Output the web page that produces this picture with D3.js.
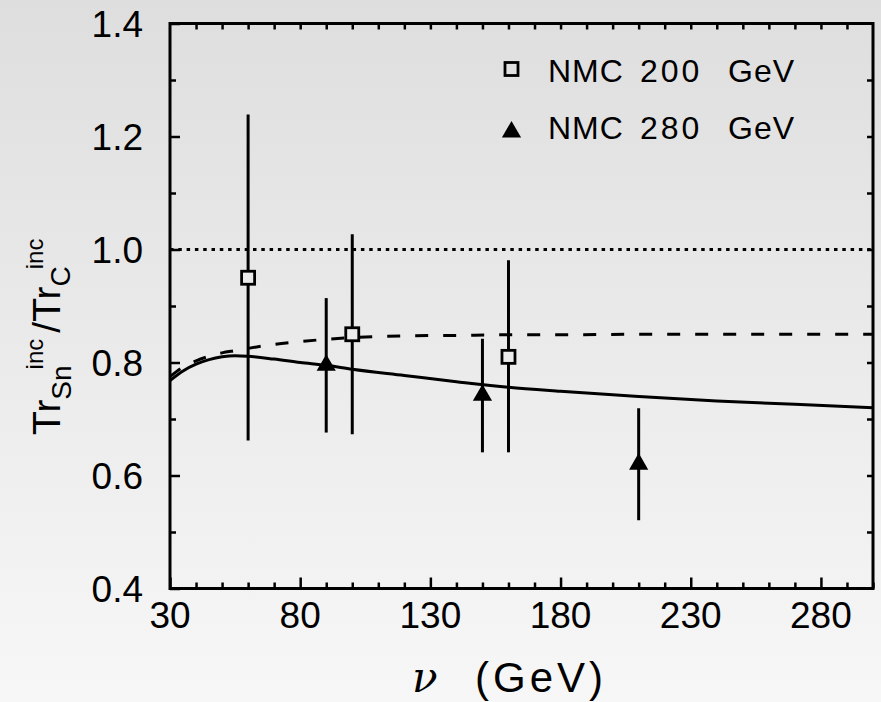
<!DOCTYPE html>
<html><head><meta charset="utf-8">
<script src="https://cdn.jsdelivr.net/npm/d3@7"></script>
<style>
html,body{margin:0;padding:0;}
body{width:881px;height:702px;overflow:hidden;}
text{font-family:"Liberation Sans",Arial,sans-serif;fill:#000;}
</style></head><body>
<script>
// ---- data ----
const nuNMC200 = [60, 100, 160];
const valNMC200 = [0.95, 0.85, 0.81];
const loNMC200 = [0.662, 0.673, 0.641];
const hiNMC200 = [1.239, 1.027, 0.981];

const nuNMC280 = [90, 150, 210];
const valNMC280 = [0.795, 0.742, 0.620];
const loNMC280 = [0.676, 0.641, 0.521];
const hiNMC280 = [0.914, 0.842, 0.719];

const curveNu = [30, 35, 40, 45, 50, 55, 60, 70, 80, 90, 100, 120, 140, 160, 180, 210, 240, 270, 300];
const solidCurve = [0.768, 0.785, 0.797, 0.805, 0.810, 0.812, 0.811, 0.806, 0.800, 0.795, 0.788, 0.777, 0.766, 0.756, 0.749, 0.740, 0.732, 0.726, 0.720];
const dashedCurve = [0.775, 0.792, 0.803, 0.811, 0.817, 0.821, 0.825, 0.832, 0.837, 0.841, 0.844, 0.847, 0.848, 0.849, 0.849, 0.850, 0.850, 0.850, 0.850];
const refLine = [1.0];

const xTickLabels = [30, 80, 130, 180, 230, 280];
const yTickLabels = [0.4, 0.6, 0.8, 1.0, 1.2, 1.4];
const legendLabels = [["NMC", "200", "GeV"], ["NMC", "280", "GeV"]];

// ---- layout ----
const W = 881, H = 702;
const L = 170, R = 873, T = 23.5, B = 588.5;

const svg = d3.select("body").append("svg").attr("width", W).attr("height", H);
const defs = svg.append("defs");
const grad = defs.append("linearGradient").attr("id", "bg").attr("x1", 0).attr("y1", 0).attr("x2", 0).attr("y2", 1);
grad.append("stop").attr("offset", "0%").attr("stop-color", "#dedede");
grad.append("stop").attr("offset", "100%").attr("stop-color", "#f7f7f7");
svg.append("rect").attr("width", W).attr("height", H).attr("fill", "url(#bg)");

const x = d3.scaleLinear().domain([30, 300]).range([L, R]);
const y = d3.scaleLinear().domain([0.4, 1.4]).range([B, T]);

const tickStyle = g => { g.select(".domain").remove(); g.selectAll(".tick line").attr("stroke", "#000").attr("stroke-width", 2.5); g.selectAll(".tick text").remove(); };

// bottom ticks (inward)
svg.append("g").attr("transform", `translate(0,${B})`)
  .call(d3.axisBottom(x).tickValues(d3.range(30, 301, 10).filter(v => (v - 30) % 50 !== 0)).tickSize(-6).tickSizeOuter(0)).call(tickStyle);
svg.append("g").attr("transform", `translate(0,${B})`)
  .call(d3.axisBottom(x).tickValues(xTickLabels).tickSize(-11).tickSizeOuter(0)).call(tickStyle);
// top ticks
svg.append("g").attr("transform", `translate(0,${T})`)
  .call(d3.axisTop(x).tickValues(d3.range(40, 300, 10)).tickSize(-6).tickSizeOuter(0)).call(tickStyle);
// left ticks
svg.append("g").attr("transform", `translate(${L},0)`)
  .call(d3.axisLeft(y).tickValues([0.5, 0.7, 0.9, 1.1, 1.3]).tickSize(-6).tickSizeOuter(0)).call(tickStyle);
svg.append("g").attr("transform", `translate(${L},0)`)
  .call(d3.axisLeft(y).tickValues(yTickLabels).tickSize(-10).tickSizeOuter(0)).call(tickStyle);
// right ticks
svg.append("g").attr("transform", `translate(${R},0)`)
  .call(d3.axisRight(y).tickValues(d3.range(5, 14).map(v => v / 10)).tickSize(-6).tickSizeOuter(0)).call(tickStyle);

// tick labels
svg.append("g").selectAll("text").data(xTickLabels).join("text")
  .attr("x", d => x(d)).attr("y", 628).attr("text-anchor", "middle")
  .attr("font-size", 37).text(d => d);
svg.append("g").selectAll("text").data(yTickLabels).join("text")
  .attr("x", 143).attr("y", d => y(d) + 13).attr("text-anchor", "end")
  .attr("font-size", 37).text(d => d.toFixed(1));

// frame
svg.append("rect").attr("x", L).attr("y", T).attr("width", R - L).attr("height", B - T)
  .attr("fill", "none").attr("stroke", "#000").attr("stroke-width", 3);

// clip
defs.append("clipPath").attr("id", "clip").append("rect").attr("x", L).attr("y", T).attr("width", R - L).attr("height", B - T);
const plot = svg.append("g").attr("clip-path", "url(#clip)");

// reference dotted line
plot.selectAll("line.ref").data(refLine).join("line").attr("class", "ref")
  .attr("x1", L).attr("x2", R).attr("y1", d => y(d)).attr("y2", d => y(d))
  .attr("stroke", "#000").attr("stroke-width", 3).attr("stroke-dasharray", "3.5,4.8");

const line = d3.line().curve(d3.curveMonotoneX);
plot.append("path").attr("d", line(curveNu.map((n, i) => [x(n), y(solidCurve[i])])))
  .attr("fill", "none").attr("stroke", "#000").attr("stroke-width", 3);
plot.append("path").attr("d", line(curveNu.map((n, i) => [x(n), y(dashedCurve[i])])))
  .attr("fill", "none").attr("stroke", "#000").attr("stroke-width", 3).attr("stroke-dasharray", "13,15");

// error bars
const errs = nuNMC200.map((n, i) => ({n, lo: loNMC200[i], hi: hiNMC200[i]}))
  .concat(nuNMC280.map((n, i) => ({n, lo: loNMC280[i], hi: hiNMC280[i]})));
plot.selectAll("line.err").data(errs).join("line").attr("class", "err")
  .attr("x1", d => x(d.n)).attr("x2", d => x(d.n)).attr("y1", d => y(d.lo)).attr("y2", d => y(d.hi))
  .attr("stroke", "#000").attr("stroke-width", 3);

// squares
const sq = 13;
plot.selectAll("rect.sq").data(nuNMC200.map((n, i) => [n, valNMC200[i]])).join("rect").attr("class", "sq")
  .attr("x", d => x(d[0]) - sq / 2).attr("y", d => y(d[1]) - sq / 2).attr("width", sq).attr("height", sq)
  .attr("fill", "#ececec").attr("stroke", "#000").attr("stroke-width", 2.8);
// triangles
const tri = d3.symbol().type(d3.symbolTriangle).size(160);
plot.selectAll("path.tri").data(nuNMC280.map((n, i) => [n, valNMC280[i]])).join("path").attr("class", "tri")
  .attr("transform", d => `translate(${x(d[0])},${y(d[1])})`).attr("d", tri).attr("fill", "#000");

// legend
const leg = svg.append("g");
leg.append("rect").attr("x", 511.5 - 6.5).attr("y", 69 - 6.5).attr("width", 13).attr("height", 13)
  .attr("fill", "none").attr("stroke", "#000").attr("stroke-width", 2.8);
leg.append("path").attr("transform", "translate(511.5,132)").attr("d", tri).attr("fill", "#000");
const wordX = [548, 640, 728];
legendLabels.forEach((row, r) => {
  row.forEach((w, j) => {
    leg.append("text").attr("x", wordX[j]).attr("y", r === 0 ? 81.5 : 138.5)
      .attr("font-size", 32).attr("letter-spacing", j === 1 ? 3 : 1).text(w);
  });
});

// axis titles
const xt = svg.append("text").attr("y", 692).attr("font-size", 42);
xt.append("tspan").attr("x", 412).attr("font-style", "italic").attr("font-family", "DejaVu Serif, serif").text("ν");
xt.append("tspan").attr("x", 475).attr("letter-spacing", 4).text("(GeV)");

const yt = svg.append("text").attr("transform", "translate(60,435) rotate(-90)").attr("font-size", 39);
yt.append("tspan").text("Tr");
yt.append("tspan").attr("font-size", 28).attr("dy", 11).text("Sn");
yt.append("tspan").attr("font-size", 24).attr("dy", -28).attr("dx", -4).text("inc");
yt.append("tspan").attr("font-size", 39).attr("dy", 17).attr("dx", 6).text("/");
yt.append("tspan").attr("font-size", 39).text("Tr");
yt.append("tspan").attr("font-size", 28).attr("dy", 10).text("C");
yt.append("tspan").attr("font-size", 24).attr("dy", -27).attr("dx", -3).text("inc");
</script>
</body></html>
